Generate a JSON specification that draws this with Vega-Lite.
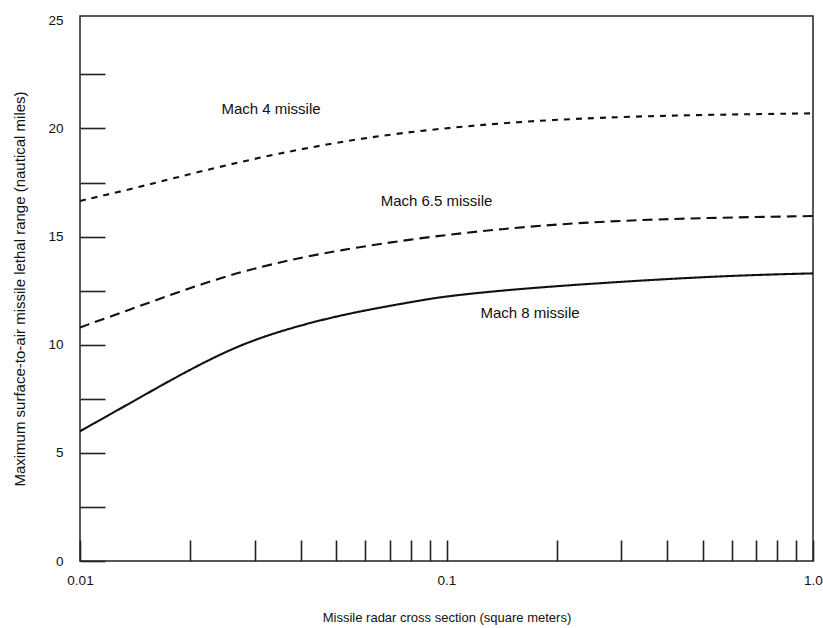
{
  "$schema": "https://vega.github.io/schema/vega-lite/v6.json",
  "width": 733,
  "height": 545,
  "autosize": {"type": "none"},
  "padding": {"left": 80, "top": 16, "right": 10, "bottom": 67},
  "background": "white",
  "config": {
    "view": {"stroke": "#222", "strokeWidth": 1.5},
    "font": "Liberation Sans",
    "axis": {"domain": false, "grid": false, "labelColor": "#111", "titleColor": "#111", "tickColor": "#222", "tickWidth": 1.6, "labelFont": "Liberation Sans", "titleFont": "Liberation Sans", "titleFontWeight": "normal"}
  },
  "datasets": {
    "curves": [
      {"rcs": 0.01, "range": 16.65, "series": "Mach 4"},
      {"rcs": 0.0138, "range": 17.2, "series": "Mach 4"},
      {"rcs": 0.018, "range": 17.7, "series": "Mach 4"},
      {"rcs": 0.025, "range": 18.3, "series": "Mach 4"},
      {"rcs": 0.035, "range": 18.85, "series": "Mach 4"},
      {"rcs": 0.05, "range": 19.35, "series": "Mach 4"},
      {"rcs": 0.075, "range": 19.8, "series": "Mach 4"},
      {"rcs": 0.12, "range": 20.15, "series": "Mach 4"},
      {"rcs": 0.19, "range": 20.4, "series": "Mach 4"},
      {"rcs": 0.37, "range": 20.6, "series": "Mach 4"},
      {"rcs": 1.0, "range": 20.7, "series": "Mach 4"},
      {"rcs": 0.01, "range": 10.8, "series": "Mach 6.5"},
      {"rcs": 0.0138, "range": 11.65, "series": "Mach 6.5"},
      {"rcs": 0.019, "range": 12.5, "series": "Mach 6.5"},
      {"rcs": 0.027, "range": 13.35, "series": "Mach 6.5"},
      {"rcs": 0.037, "range": 13.9, "series": "Mach 6.5"},
      {"rcs": 0.05, "range": 14.35, "series": "Mach 6.5"},
      {"rcs": 0.085, "range": 14.95, "series": "Mach 6.5"},
      {"rcs": 0.14, "range": 15.35, "series": "Mach 6.5"},
      {"rcs": 0.23, "range": 15.65, "series": "Mach 6.5"},
      {"rcs": 0.44, "range": 15.85, "series": "Mach 6.5"},
      {"rcs": 1.0, "range": 15.95, "series": "Mach 6.5"},
      {"rcs": 0.01, "range": 6.0, "series": "Mach 8"},
      {"rcs": 0.0117, "range": 6.65, "series": "Mach 8"},
      {"rcs": 0.0138, "range": 7.33, "series": "Mach 8"},
      {"rcs": 0.0162, "range": 8.0, "series": "Mach 8"},
      {"rcs": 0.019, "range": 8.65, "series": "Mach 8"},
      {"rcs": 0.024, "range": 9.55, "series": "Mach 8"},
      {"rcs": 0.031, "range": 10.35, "series": "Mach 8"},
      {"rcs": 0.044, "range": 11.1, "series": "Mach 8"},
      {"rcs": 0.06, "range": 11.6, "series": "Mach 8"},
      {"rcs": 0.085, "range": 12.05, "series": "Mach 8"},
      {"rcs": 0.1, "range": 12.25, "series": "Mach 8"},
      {"rcs": 0.16, "range": 12.6, "series": "Mach 8"},
      {"rcs": 0.32, "range": 12.95, "series": "Mach 8"},
      {"rcs": 0.6, "range": 13.2, "series": "Mach 8"},
      {"rcs": 1.0, "range": 13.3, "series": "Mach 8"}
    ],
    "labels": [
      {"rcs": 0.0332, "range": 20.9, "label": "Mach 4 missile"},
      {"rcs": 0.0939, "range": 16.63, "label": "Mach 6.5 missile"},
      {"rcs": 0.169, "range": 11.48, "label": "Mach 8 missile"}
    ]
  },
  "layer": [
    {
      "data": {"name": "curves"},
      "mark": {"type": "line", "interpolate": "basis", "color": "#111", "strokeWidth": 2.1},
      "encoding": {
        "x": {
          "field": "rcs", "type": "quantitative",
          "scale": {"type": "log", "domain": [0.01, 1], "nice": false},
          "axis": {
            "values": [0.01, 0.02, 0.03, 0.04, 0.05, 0.06, 0.07, 0.08, 0.09, 0.1, 0.2, 0.3, 0.4, 0.5, 0.6, 0.7, 0.8, 0.9, 1],
            "labelExpr": "datum.value == 0.01 ? '0.01' : datum.value == 0.1 ? '0.1' : datum.value == 1 ? '1.0' : ''",
            "tickSize": -21,
            "labelPadding": 33,
            "labelFlush": false,
            "labelFontSize": 13.5,
            "labelOverlap": false,
            "title": "Missile radar cross section (square meters)",
            "titleFontSize": 13,
            "titleBaseline": "middle",
            "titleY": 56
          }
        },
        "y": {
          "field": "range", "type": "quantitative",
          "scale": {"domain": [0, 25.2], "nice": false, "zero": false},
          "axis": {
            "values": [0, 2.5, 5, 7.5, 10, 12.5, 15, 17.5, 20, 22.5, 25],
            "labelExpr": "datum.value % 5 == 0 ? datum.value : ''",
            "tickSize": -25,
            "tickOpacity": {"condition": {"test": "datum.value == 25", "value": 0}, "value": 1},
            "labelPadding": 42,
            "labelFlush": false,
            "labelFontSize": 13.5,
            "labelOverlap": false,
            "title": "Maximum surface-to-air missile lethal range (nautical miles)",
            "titleFontSize": 15,
            "titleBaseline": "middle",
            "titleX": -61
          }
        },
        "strokeDash": {
          "field": "series", "type": "nominal",
          "scale": {"domain": ["Mach 4", "Mach 6.5", "Mach 8"], "range": [[6, 6], [10, 6], [1, 0]]},
          "legend": null
        },
        "detail": {"field": "series"}
      }
    },
    {
      "data": {"name": "labels"},
      "mark": {"type": "text", "fontSize": 15, "color": "#111", "align": "center", "baseline": "middle", "font": "Liberation Sans"},
      "encoding": {
        "x": {"field": "rcs", "type": "quantitative"},
        "y": {"field": "range", "type": "quantitative"},
        "text": {"field": "label"}
      }
    }
  ]
}
